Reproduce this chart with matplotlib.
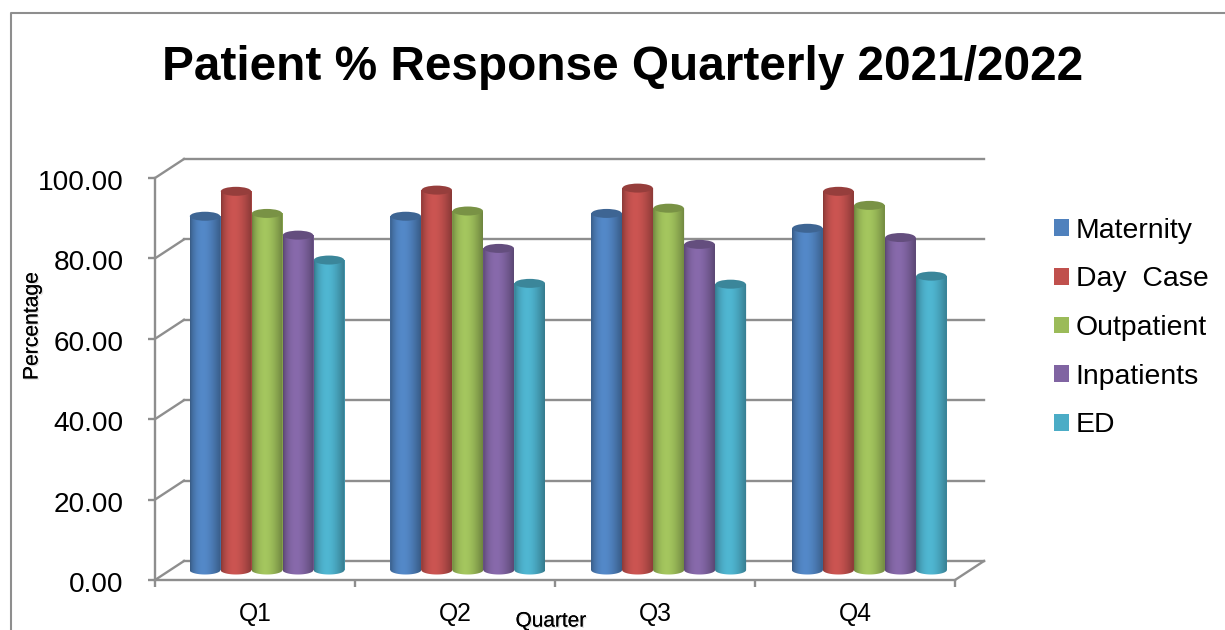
import numpy as np
import matplotlib
matplotlib.use("Agg")
import matplotlib.pyplot as plt
import matplotlib.patheffects as pe
from matplotlib.colors import to_rgb
from matplotlib.lines import Line2D
from matplotlib.patches import Ellipse, Patch
from matplotlib.path import Path
from matplotlib.transforms import Affine2D

plt.rcParams['font.family'] = ['Liberation Sans', 'DejaVu Sans']

quarters = ["Q1", "Q2", "Q3", "Q4"]
series_names = ["Maternity", "Day  Case", "Outpatient", "Inpatients", "ED"]
maternity = [88.0, 88.0, 88.7, 85.0]
day_case = [94.2, 94.5, 95.0, 94.2]
outpatient = [88.7, 89.3, 90.0, 90.7]
inpatients = [83.3, 80.0, 81.0, 82.7]
ed = [77.1, 71.3, 71.1, 73.1]
series_values = [maternity, day_case, outpatient, inpatients, ed]
colors = ["#4F81BD", "#C0504D", "#9BBB59", "#8064A2", "#4BACC6"]
y_ticks = [0, 20, 40, 60, 80, 100]

W, H = 1225, 630
GRID = "#8E8E8E"
LW = 1.7
fig = plt.figure(figsize=(W / 100, H / 100), dpi=100, facecolor="white")
ax = fig.add_axes([155 / W, 1 - 580 / H, 800 / W, 402 / H])
ax.set_xlim(0, 4)
ax.set_ylim(0, 100)
ax.patch.set_visible(False)

# Outer chart frame
fig.add_artist(Line2D([11 / W, 11 / W, 1], [0, 1 - 13 / H, 1 - 13 / H], color=GRID, lw=1.5))

# Pseudo-3D walls, offsets in display pixels
depth = (29, 19)
back_shift = ax.transData + Affine2D().translate(*depth)
bar_shift = ax.transData + Affine2D().translate(13, 10)
for v in y_ticks:
    ax.plot([0, 4], [v, v], transform=back_shift, color=GRID, lw=LW, clip_on=False, zorder=1)
    p0 = ax.transData.transform((0, v))
    fig.add_artist(Line2D([p0[0], p0[0] + depth[0]], [p0[1], p0[1] + depth[1]],
                          transform=None, color=GRID, lw=LW, zorder=1))
p1 = ax.transData.transform((4, 0))
fig.add_artist(Line2D([p1[0], p1[0] + depth[0]], [p1[1], p1[1] + depth[1]],
                      transform=None, color=GRID, lw=LW, zorder=1))

for s in ["top", "right"]:
    ax.spines[s].set_visible(False)
for s in ["left", "bottom"]:
    ax.spines[s].set_color(GRID)
    ax.spines[s].set_linewidth(LW)

ax.set_yticks(y_ticks)
ax.set_yticklabels([f"{v:.2f}" for v in y_ticks], fontsize=20.2)
ax.set_xticks(range(5))
ax.set_xticklabels([])
ax.set_xticks([i + 0.5 for i in range(4)], minor=True)
ax.set_xticklabels(quarters, minor=True, fontsize=17.8)
ax.tick_params(axis="both", which="major", color=GRID, width=LW, length=5)
ax.tick_params(axis="y", pad=17.5)
ax.tick_params(axis="x", which="minor", length=0, pad=16)
for lab in ax.get_yticklabels():
    lab.set_transform(lab.get_transform() + Affine2D().translate(0, -2))

# Cylinders
bar_w = 0.155
ell_h = 9 / 4.02
n = len(series_names)
for i, (vals, col) in enumerate(zip(series_values, colors)):
    base = np.array(to_rgb(col))
    t = np.linspace(0, 1, 32)
    shade = 0.72 + 0.34 * np.sin(np.pi * t ** 0.8)
    grad = np.clip(base[None, None, :] * shade[None, :, None], 0, 1)
    xc = np.arange(len(quarters)) * 1.004 + 0.495 + (i - (n - 1) / 2) * bar_w
    ax.bar(xc, vals, width=bar_w, color=col, transform=bar_shift, zorder=3 + i, clip_on=False)
    for x, v in zip(xc, vals):
        th = np.linspace(np.pi, 2 * np.pi, 30)
        bx = x + bar_w / 2 * np.cos(th)
        by = ell_h / 2 * np.sin(th)
        verts = np.r_[np.c_[bx, by], [[x + bar_w / 2, v], [x - bar_w / 2, v]], [[bx[0], by[0]]]]
        clip = Path(verts, closed=True)
        im = ax.imshow(grad, extent=(x - bar_w / 2, x + bar_w / 2, -ell_h, v), aspect="auto",
                       transform=bar_shift, zorder=3 + i, interpolation="bilinear")
        im.set_clip_path(clip, bar_shift)
        ax.add_patch(Ellipse((x, v), bar_w * 0.98, ell_h, transform=bar_shift,
                             facecolor=base * 0.78, edgecolor="none", zorder=3.5 + i, clip_on=False))
ax.set_xlim(0, 4)
ax.set_ylim(0, 100)

shadow = [pe.withSimplePatchShadow(offset=(1, -1), shadow_rgbFace="#aaaaaa", alpha=0.35), pe.Normal()]
fig.text(623 / W, 1 - 67 / H, "Patient % Response Quarterly 2021/2022", fontsize=34.4, fontweight="bold",
         ha="center", va="center", color="black")
fig.text(32 / W, 1 - 326 / H, "Percentage", fontsize=15.2, rotation=90, ha="center", va="center",
         path_effects=shadow)
fig.text(551 / W, 1 - 626.5 / H, "Quarter", fontsize=15, ha="center", va="baseline", path_effects=shadow)

handles = [Patch(facecolor=c, edgecolor="none") for c in colors]
fig.legend(handles, series_names, loc="upper left", bbox_to_anchor=(1048 / W, 1 - 212 / H), frameon=False,
           fontsize=20.4, handlelength=0.53, handleheight=0.53, handletextpad=0.25, labelspacing=0.80,
           borderpad=0.2, borderaxespad=0)

fig.savefig("out.png", dpi=100, facecolor="white")
